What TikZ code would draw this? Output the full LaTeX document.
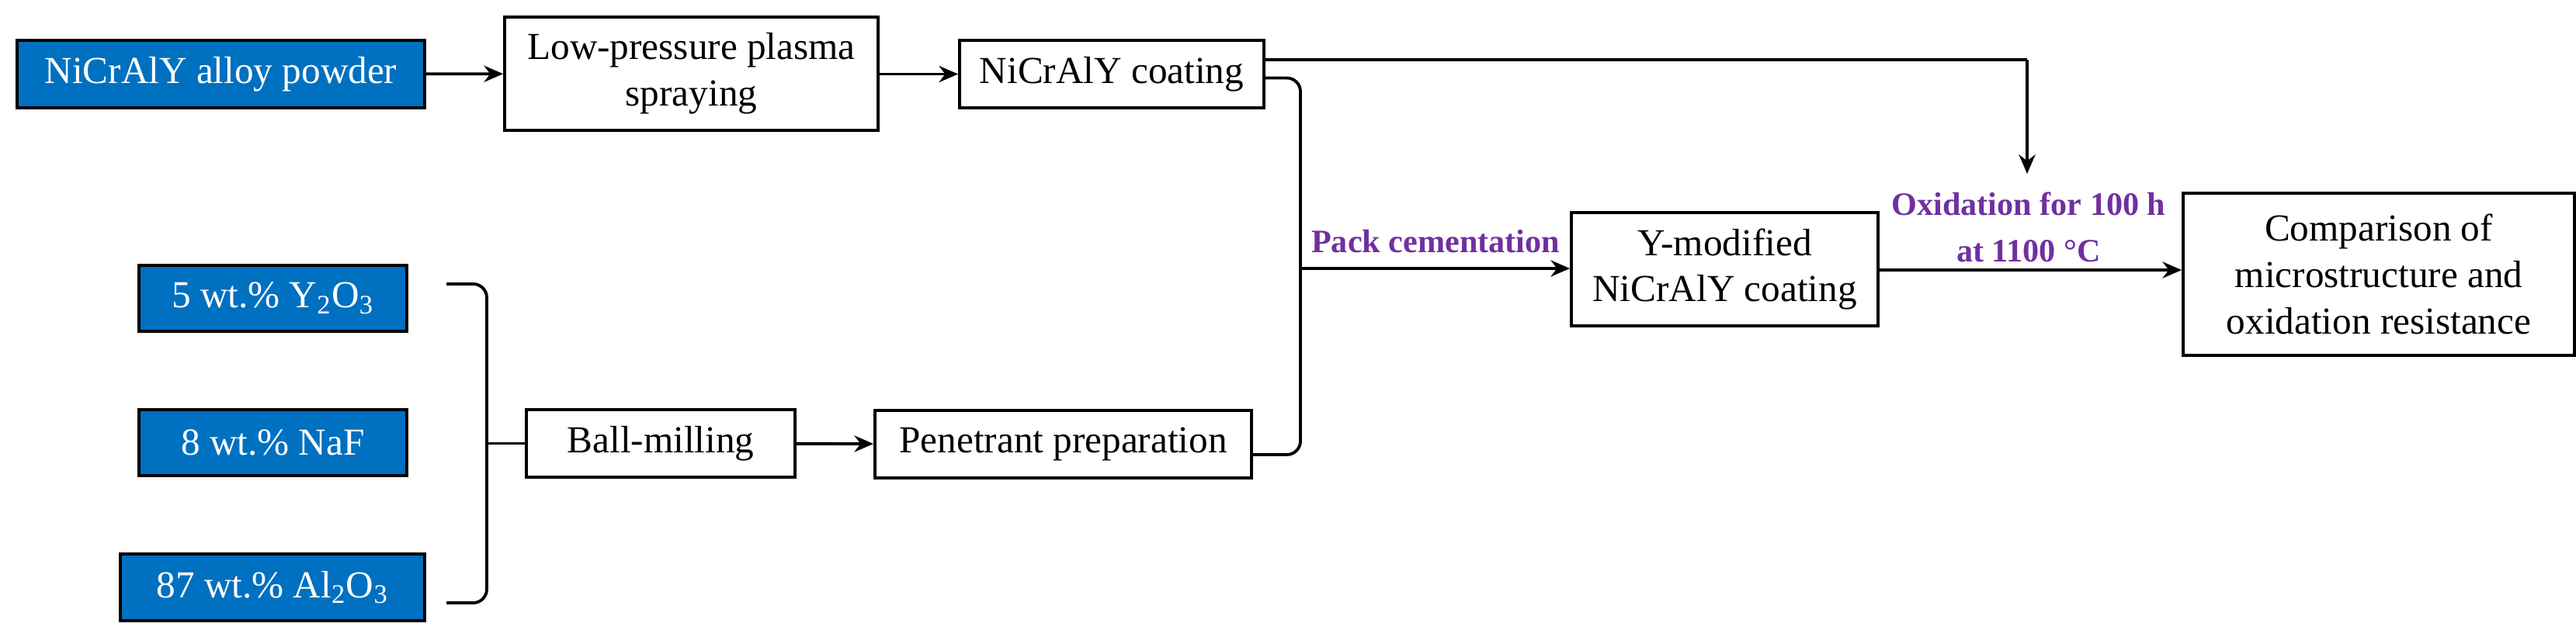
\documentclass[tikz,border=0pt]{standalone}
\usepackage{fontspec}
\setmainfont{Liberation Serif}
\usetikzlibrary{arrows.meta}
\definecolor{fblue}{RGB}{0,112,192}
\definecolor{lpurple}{RGB}{112,48,160}
\begin{document}
\begin{tikzpicture}[
  box/.style={draw=black,line width=1.1pt,align=center,inner sep=1pt,font=\fontsize{14}{17}\selectfont},
  bbox/.style={box,fill=fblue,text=white},
  con/.style={line width=1.1pt},
  arr/.style={con,-{Stealth[length=7pt,width=6pt]}},
  lab/.style={text=lpurple,font=\bfseries\fontsize{12}{17}\selectfont,align=center}]
\useasboundingbox (0,0) rectangle (33.18,8.2);
\node[bbox,minimum width=5.25cm,minimum height=0.87cm] (pow) at (2.845,7.245) {NiCrAlY alloy powder};
\node[box,minimum width=4.81cm,minimum height=1.46cm] (lpps) at (8.905,7.25) {Low-pressure plasma\\spraying};
\node[box,minimum width=3.92cm,minimum height=0.87cm] (coat) at (14.32,7.245) {NiCrAlY coating};
\node[bbox,minimum width=3.45cm,minimum height=0.85cm] (y2o3) at (3.515,4.355) {5 wt.\% Y\textsubscript{2}O\textsubscript{3}};
\node[bbox,minimum width=3.45cm,minimum height=0.85cm] (naf) at (3.515,2.495) {8 wt.\% NaF};
\node[bbox,minimum width=3.92cm,minimum height=0.86cm] (al2o3) at (3.51,0.63) {87 wt.\% Al\textsubscript{2}O\textsubscript{3}};
\node[box,minimum width=3.46cm,minimum height=0.87cm] (ball) at (8.51,2.485) {Ball-milling};
\node[box,minimum width=4.85cm,minimum height=0.87cm] (pen) at (13.695,2.475) {Penetrant preparation};
\node[box,minimum width=3.95cm,minimum height=1.46cm] (ymod) at (22.215,4.73) {Y-modified\\NiCrAlY coating};
\node[box,minimum width=5.04cm,minimum height=2.09cm] (comp) at (30.64,4.665) {Comparison of\\microstructure and\\oxidation resistance};
\coordinate (bt) at (5.75,4.54);
\coordinate (bb) at (5.75,0.43);
\coordinate (rb) at (16.75,4.74);
\coordinate (tc) at (26.11,7.43);
\draw[arr] (pow) -- (lpps);
\draw[arr] (lpps.east |- coat) -- (coat);
\draw[arr] (ball) -- (pen);
\draw[con,rounded corners=5pt] (bt) -| (6.27,2.485) |- (bb);
\draw[con] (6.27,2.485) -- (ball.west);
\draw[con,rounded corners=5pt] ([yshift=-0.05cm]coat.east) -| (16.75,2.34) -- (pen.east |- 0,2.34);
\draw[arr] (rb) -- (ymod.west |- rb);
\draw[con] ([yshift=0.185cm]coat.east) -- (tc);
\draw[arr] (tc) -- (26.11,5.96);
\draw[arr] (ymod.east |- 0,4.72) -- (comp.west |- 0,4.72);
\node[lab] (pc) at (18.49,5.09) {Pack cementation};
\node[lab] (ox) at (26.13,5.27) {Oxidation for 100 h\\at 1100 \textdegree C};
\end{tikzpicture}
\end{document}
